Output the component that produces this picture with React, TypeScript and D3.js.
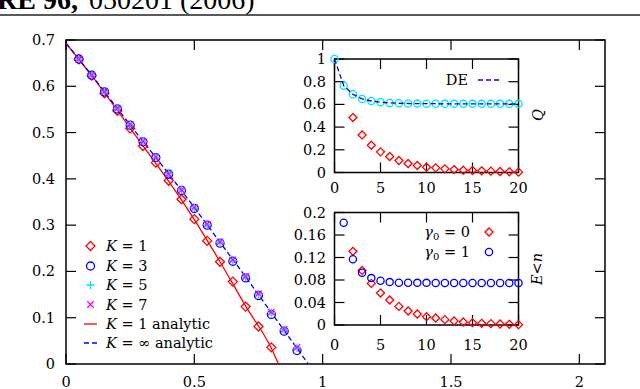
import React from "react";
import * as d3 from "d3";

const W = 640;
const H = 389;

// ---------- main panel data ----------
const mainXTicks = [0, 0.5, 1, 1.5, 2];
const mainXTickLabels = ["0", "0.5", "1", "1.5", "2"];
const mainYTicks = [0, 0.1, 0.2, 0.3, 0.4, 0.5, 0.6, 0.7];
const mainYTickLabels = ["0", "0.1", "0.2", "0.3", "0.4", "0.5", "0.6", "0.7"];

const k1X = [0.05, 0.1, 0.15, 0.2, 0.25, 0.3, 0.35, 0.4, 0.45, 0.5, 0.55, 0.6, 0.65, 0.7, 0.75, 0.8];
const k1Y = [0.658, 0.623, 0.585, 0.547, 0.509, 0.471, 0.435, 0.396, 0.356, 0.313, 0.266, 0.221, 0.178, 0.124, 0.081, 0.036];

const kX = [0.05, 0.1, 0.15, 0.2, 0.25, 0.3, 0.35, 0.4, 0.45, 0.5, 0.55, 0.6, 0.65, 0.7, 0.75, 0.8, 0.85, 0.9];
const k3Y = [0.659, 0.624, 0.588, 0.551, 0.516, 0.480, 0.446, 0.410, 0.375, 0.336, 0.300, 0.261, 0.222, 0.186, 0.148, 0.107, 0.071, 0.029];
const k5Y = [0.659, 0.624, 0.588, 0.552, 0.517, 0.481, 0.446, 0.411, 0.376, 0.337, 0.301, 0.263, 0.224, 0.188, 0.151, 0.111, 0.074, 0.035];
const k7Y = [0.659, 0.624, 0.588, 0.552, 0.517, 0.481, 0.447, 0.411, 0.376, 0.338, 0.302, 0.264, 0.225, 0.189, 0.152, 0.112, 0.075, 0.036];

const k1AnalyticX = [0, 0.1, 0.2, 0.3, 0.4, 0.5, 0.6, 0.7, 0.8, 0.828];
const k1AnalyticY = [0.693, 0.623, 0.548, 0.471, 0.395, 0.312, 0.221, 0.125, 0.034, 0];
const kInfAnalyticX = [0, 0.1, 0.2, 0.3, 0.4, 0.5, 0.6, 0.7, 0.8, 0.9, 0.944];
const kInfAnalyticY = [0.693, 0.624, 0.552, 0.481, 0.411, 0.338, 0.263, 0.188, 0.111, 0.034, 0];

// ---------- inset data ----------
const insetXTicks = [0, 5, 10, 15, 20];
const insetXTickLabels = ["0", "5", "10", "15", "20"];
const qYTicks = [0, 0.2, 0.4, 0.6, 0.8, 1];
const qYTickLabels = ["0", "0.2", "0.4", "0.6", "0.8", "1"];
const eYTicks = [0, 0.04, 0.08, 0.12, 0.16, 0.2];
const eYTickLabels = ["0", "0.04", "0.08", "0.12", "0.16", "0.2"];

const qN = [0, 1, 2, 3, 4, 5, 6, 7, 8, 9, 10, 11, 12, 13, 14, 15, 16, 17, 18, 19, 20];
const qCyan = [1.0, 0.765, 0.689, 0.648, 0.630, 0.620, 0.613, 0.610, 0.608, 0.607, 0.606, 0.606, 0.605, 0.605, 0.605, 0.605, 0.605, 0.605, 0.605, 0.605, 0.605];
const qDE = [1.0, 0.765, 0.689, 0.648, 0.630, 0.620, 0.613, 0.610, 0.608, 0.607, 0.606, 0.606, 0.605, 0.605, 0.605, 0.605, 0.605, 0.605, 0.605, 0.605, 0.605];
const qRedN = [2, 3, 4, 5, 6, 7, 8, 9, 10, 11, 12, 13, 14, 15, 16, 17, 18, 19, 20];
const qRed = [0.484, 0.331, 0.240, 0.182, 0.141, 0.106, 0.079, 0.062, 0.047, 0.041, 0.032, 0.026, 0.020, 0.018, 0.015, 0.012, 0.009, 0.006, 0.003];

const eBlueN = [1, 2, 3, 4, 5, 6, 7, 8, 9, 10, 11, 12, 13, 14, 15, 16, 17, 18, 19, 20];
const eBlue = [0.1817, 0.117, 0.093, 0.0834, 0.0787, 0.0763, 0.0752, 0.0750, 0.0749, 0.0749, 0.0748, 0.0748, 0.0748, 0.0748, 0.0748, 0.0748, 0.0748, 0.0748, 0.0748, 0.0748];
const eRedN = [2, 3, 4, 5, 6, 7, 8, 9, 10, 11, 12, 13, 14, 15, 16, 17, 18, 19, 20];
const eRed = [0.131, 0.097, 0.074, 0.0568, 0.0444, 0.0331, 0.0249, 0.0195, 0.0148, 0.0124, 0.0095, 0.0071, 0.0053, 0.0041, 0.0030, 0.0024, 0.0018, 0.0012, 0.0006];

const RED = "#ff0000";
const BLUE = "#0000ff";
const CYAN = "#00e5ee";
const MAGENTA = "#ff00ff";
const FONT = "DejaVu Serif";
const FS = 14.5;

const Diamond = ({ x, y, c = RED, s = 4.5 }: any) => (
  <path d={`M${x},${y - s}L${x + s},${y}L${x},${y + s}L${x - s},${y}Z`} fill="none" stroke={c} strokeWidth={1.3} />
);
const Circle = ({ x, y, c = BLUE, r = 4 }: any) => (
  <circle cx={x} cy={y} r={r} fill="none" stroke={c} strokeWidth={1.3} />
);
const Plus = ({ x, y, c = CYAN, s = 4 }: any) => (
  <path d={`M${x - s},${y}H${x + s}M${x},${y - s}V${y + s}`} stroke={c} strokeWidth={1.3} />
);
const Cross = ({ x, y, c = MAGENTA, s = 3.2 }: any) => (
  <path d={`M${x - s},${y - s}L${x + s},${y + s}M${x - s},${y + s}L${x + s},${y - s}`} stroke={c} strokeWidth={1.3} />
);

function Frame({ x, y, xTicks, yTicks, tick }: any) {
  const [x0, x1] = x.range();
  const [y0, y1] = y.range();
  return (
    <g stroke="#000" strokeWidth={1.2} fill="none">
      {xTicks.map((t: number, i: number) => (
        <g key={"x" + i}>
          <line x1={x(t)} x2={x(t)} y1={y0} y2={y0 - tick} />
          <line x1={x(t)} x2={x(t)} y1={y1} y2={y1 + tick} />
        </g>
      ))}
      {yTicks.map((t: number, i: number) => (
        <g key={"y" + i}>
          <line x1={x0} x2={x0 + tick} y1={y(t)} y2={y(t)} />
          <line x1={x1} x2={x1 - tick} y1={y(t)} y2={y(t)} />
        </g>
      ))}
      <rect x={x0} y={y1} width={x1 - x0} height={y0 - y1} strokeWidth={1.5} />
    </g>
  );
}

export default function App() {
  const x = d3.scaleLinear([0, 2.1], [66, 605]);
  const y = d3.scaleLinear([0, 0.7], [364, 40]);

  const ix = d3.scaleLinear([0, 20], [334.5, 518.5]);
  const qy = d3.scaleLinear([0, 1], [172.5, 59]);
  const ey = d3.scaleLinear([0, 0.2], [325, 212.5]);

  const line = d3
    .line<[number, number]>()
    .x((d) => x(d[0]))
    .y((d) => y(d[1]))
    .curve(d3.curveMonotoneX);
  const k1Line = line(k1AnalyticX.map((v, i) => [v, k1AnalyticY[i]]) as any);
  const kInfLine = line(kInfAnalyticX.map((v, i) => [v, kInfAnalyticY[i]]) as any);
  const deLine = d3
    .line<number>()
    .x((_, i) => ix(qN[i]))
    .y((d) => qy(d))(qDE);

  return (
    <svg width={W} height={H} style={{ position: "absolute", left: 0, top: 0 }} fontFamily={FONT}>
      <rect width={W} height={H} fill="#fff" />
      {/* header */}
      <text x={-3} y={9} fontFamily="Liberation Serif" fontSize={28}>
        <tspan fontWeight="bold">RE 96,</tspan>
        <tspan x={89}>050201 (2006)</tspan>
      </text>
      <line x1={0} x2={W} y1={15} y2={15} stroke="#222" strokeWidth={1.6} />

      {/* main panel */}
      <Frame x={x} y={y} xTicks={mainXTicks} yTicks={mainYTicks} tick={10} />
      {mainXTicks.map((t, i) => (
        <text key={i} x={x(t)} y={387} textAnchor="middle" fontSize={FS}>{mainXTickLabels[i]}</text>
      ))}
      {mainYTicks.map((t, i) => (
        <text key={i} x={55} y={y(t) + 5} textAnchor="end" fontSize={FS}>{mainYTickLabels[i]}</text>
      ))}

      <path d={k1Line || ""} fill="none" stroke={RED} strokeWidth={1.3} />
      <path d={kInfLine || ""} fill="none" stroke={BLUE} strokeWidth={1.3} strokeDasharray="5,3" />
      {k1X.map((v, i) => <Diamond key={"d" + i} x={x(v)} y={y(k1Y[i])} />)}
      {kX.map((v, i) => <Circle key={"c" + i} x={x(v)} y={y(k3Y[i])} />)}
      {kX.map((v, i) => <Plus key={"p" + i} x={x(v)} y={y(k5Y[i])} />)}
      {kX.map((v, i) => <Cross key={"x" + i} x={x(v)} y={y(k7Y[i])} />)}

      {/* main legend */}
      <g fontSize={14.5}>
        <Diamond x={90.5} y={246} />
        <text x={106} y={251}><tspan fontStyle="italic">K</tspan> = 1</text>
        <Circle x={90.5} y={266} />
        <text x={106} y={271}><tspan fontStyle="italic">K</tspan> = 3</text>
        <Plus x={90.5} y={285} />
        <text x={106} y={290}><tspan fontStyle="italic">K</tspan> = 5</text>
        <Cross x={90.5} y={304.5} />
        <text x={106} y={309.5}><tspan fontStyle="italic">K</tspan> = 7</text>
        <line x1={84} x2={97} y1={324} y2={324} stroke={RED} strokeWidth={1.3} />
        <text x={106} y={329}><tspan fontStyle="italic">K</tspan> = 1 analytic</text>
        <line x1={84} x2={98} y1={343} y2={343} stroke={BLUE} strokeWidth={1.3} strokeDasharray="5,3" />
        <text x={106} y={348}><tspan fontStyle="italic">K</tspan> = ∞ analytic</text>
      </g>

      {/* inset 1: Q */}
      <rect x={334.5} y={59} width={184} height={113.5} fill="#fff" />
      <Frame x={ix} y={qy} xTicks={insetXTicks} yTicks={qYTicks} tick={10} />
      {insetXTicks.map((t, i) => (
        <text key={i} x={ix(t)} y={193} textAnchor="middle" fontSize={FS}>{insetXTickLabels[i]}</text>
      ))}
      {qYTicks.map((t, i) => (
        <text key={i} x={326} y={qy(t) + 5} textAnchor="end" fontSize={FS}>{qYTickLabels[i]}</text>
      ))}
      {qRedN.map((n, i) => <Diamond key={"qr" + i} x={ix(n)} y={qy(qRed[i])} s={4} />)}
      {qN.map((n, i) => <Circle key={"qc" + i} x={ix(n)} y={qy(qCyan[i])} c={CYAN} r={3.6} />)}
      <path d={deLine || ""} fill="none" stroke={BLUE} strokeWidth={1.3} strokeDasharray="5,3" />
      <text x={468} y={85} textAnchor="end" fontSize={FS}>DE</text>
      <line x1={478} x2={501} y1={80} y2={80} stroke={BLUE} strokeWidth={1.3} strokeDasharray="5,3" />
      <text transform="translate(543,115) rotate(-90)" textAnchor="middle" fontSize={FS} fontStyle="italic">Q</text>

      {/* inset 2: E<n */}
      <rect x={334.5} y={212.5} width={184} height={112.5} fill="#fff" />
      <Frame x={ix} y={ey} xTicks={insetXTicks} yTicks={eYTicks} tick={10} />
      {insetXTicks.map((t, i) => (
        <text key={i} x={ix(t)} y={350} textAnchor="middle" fontSize={FS}>{insetXTickLabels[i]}</text>
      ))}
      {eYTicks.map((t, i) => (
        <text key={i} x={326} y={ey(t) + 5} textAnchor="end" fontSize={FS}>{eYTickLabels[i]}</text>
      ))}
      {eRedN.map((n, i) => <Diamond key={"er" + i} x={ix(n)} y={ey(eRed[i])} s={4} />)}
      {eBlueN.map((n, i) => <Circle key={"eb" + i} x={ix(n)} y={ey(eBlue[i])} r={3.6} />)}
      <text x={470} y={237} textAnchor="end" fontSize={FS}>
        <tspan fontStyle="italic">γ</tspan><tspan fontSize={10} dy={3}>0</tspan><tspan dy={-3}> = 0</tspan>
      </text>
      <Diamond x={489} y={232} s={4} />
      <text x={470} y={257} textAnchor="end" fontSize={FS}>
        <tspan fontStyle="italic">γ</tspan><tspan fontSize={10} dy={3}>0</tspan><tspan dy={-3}> = 1</tspan>
      </text>
      <Circle x={489} y={252} r={3.6} />
      <text transform="translate(542,269) rotate(-90)" textAnchor="middle" fontSize={FS} fontStyle="italic">E&lt;n</text>
    </svg>
  );
}
